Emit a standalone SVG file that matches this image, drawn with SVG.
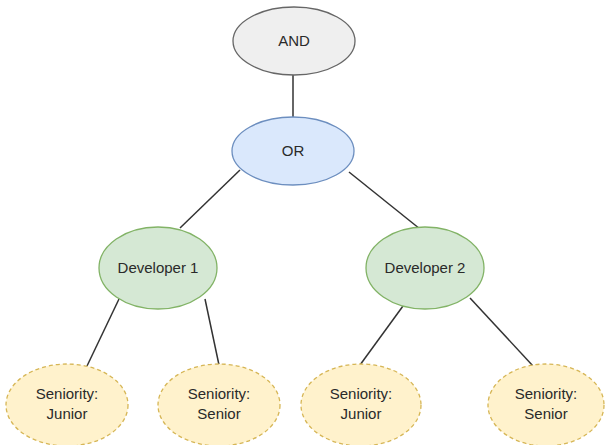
<svg xmlns="http://www.w3.org/2000/svg" width="606" height="445" viewBox="0 0 606 445">
<style>
text{font-family:"Liberation Sans",Arial,sans-serif;font-size:15px;fill:#2a2a2a;text-anchor:middle}
.gray{fill:#efefef;stroke:#666;stroke-width:1.3}
.blue{fill:#dae8fc;stroke:#6c8ebf;stroke-width:1.3}
.green{fill:#d5e8d4;stroke:#82b366;stroke-width:1.3}
.yellow{fill:#fff2cc;stroke:#d6b656;stroke-width:1.3;stroke-dasharray:4 3}
.edge{stroke:#333;stroke-width:1.5;fill:none}
</style>
<rect width="606" height="445" fill="#fff"/>
<g id="connectors">
<line class="edge" x1="293" y1="75" x2="293" y2="118"/>
<line class="edge" x1="240" y1="170" x2="180" y2="228"/>
<line class="edge" x1="349" y1="172" x2="420" y2="229"/>
<line class="edge" x1="119" y1="299" x2="87" y2="366"/>
<line class="edge" x1="205" y1="299" x2="219" y2="365"/>
<line class="edge" x1="403" y1="306" x2="360" y2="365"/>
<line class="edge" x1="470" y1="298" x2="533" y2="366"/>
</g>
<g id="and"><ellipse class="gray" cx="294" cy="41" rx="61" ry="34"/><text x="294" y="46">AND</text></g>
<g id="or"><ellipse class="blue" cx="293" cy="151" rx="61" ry="34"/><text x="293" y="156">OR</text></g>
<g id="dev1"><ellipse class="green" cx="158" cy="268" rx="59" ry="41"/><text x="158" y="273">Developer 1</text></g>
<g id="dev2"><ellipse class="green" cx="425" cy="268" rx="59" ry="41"/><text x="425" y="273">Developer 2</text></g>
<g id="jr1"><ellipse class="yellow" cx="67" cy="405" rx="61" ry="41"/><text x="67" y="399">Seniority:</text><text x="67" y="419">Junior</text></g>
<g id="sr1"><ellipse class="yellow" cx="219" cy="405" rx="61" ry="41"/><text x="219" y="399">Seniority:</text><text x="219" y="419">Senior</text></g>
<g id="jr2"><ellipse class="yellow" cx="361" cy="405" rx="60" ry="41"/><text x="361" y="399">Seniority:</text><text x="361" y="419">Junior</text></g>
<g id="sr2"><ellipse class="yellow" cx="546" cy="405" rx="58" ry="41"/><text x="546" y="399">Seniority:</text><text x="546" y="419">Senior</text></g>
</svg>
